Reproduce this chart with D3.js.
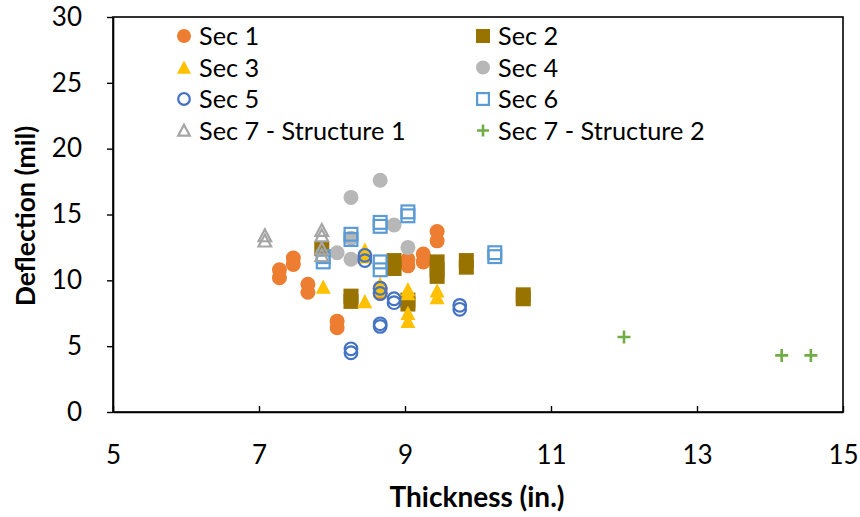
<!DOCTYPE html>
<html>
<head>
<meta charset="utf-8">
<script src="https://cdn.jsdelivr.net/npm/d3@7"></script>
<style>
  body { margin: 0; background: #fff; }
  svg { display: block; font-family: Lato, "Open Sans", sans-serif; }
</style>
</head>
<body>
<div id="chart"></div>
<script>
'use strict';

// thickness (in.), deflection (mil)
var sec1 = [[7.28, 10.8], [7.28, 10.2], [7.47, 11.7], [7.47, 11.2], [7.67, 9.7], [7.67, 9.1],
    [8.07, 6.9], [8.07, 6.4], [8.66, 9.4], [8.66, 9.0], [9.04, 11.6], [9.04, 11.1],
    [9.25, 12.0], [9.25, 11.4], [9.44, 13.7], [9.44, 13.0]];
var sec2 = [[7.86, 12.4], [8.26, 8.8], [8.26, 8.4], [8.85, 11.5], [8.85, 10.9], [9.04, 8.5], [9.04, 8.2],
    [9.44, 11.4], [9.44, 10.8], [9.44, 10.3], [9.84, 11.5], [9.84, 11.0], [10.62, 8.9], [10.62, 8.6]];
var sec3 = [[7.88, 9.5], [8.45, 8.4], [8.45, 12.3], [8.45, 11.8], [8.66, 9.7], [8.66, 9.2],
    [9.04, 9.3], [9.04, 9.0], [9.04, 7.5], [9.04, 6.9], [9.44, 9.2], [9.44, 8.7]];
var sec4 = [[8.66, 17.6], [8.26, 16.3], [8.85, 14.2], [9.04, 12.5], [8.07, 12.1], [8.26, 11.6], [8.26, 13.2]];
var sec5 = [[8.26, 4.8], [8.26, 4.5], [8.66, 6.7], [8.66, 6.5], [8.85, 8.6], [8.85, 8.3],
    [8.66, 9.4], [8.66, 9.0], [8.45, 11.9], [8.45, 11.5], [9.75, 8.1], [9.75, 7.8]];
var sec6 = [[7.88, 11.8], [7.88, 11.4], [8.26, 13.5], [8.26, 13.1], [8.66, 14.4], [8.66, 14.1],
    [9.04, 15.2], [9.04, 14.9], [8.66, 11.4], [8.66, 10.8], [10.23, 12.1], [10.23, 11.8]];
var sec7s1 = [[7.08, 13.4], [7.08, 13.0], [7.86, 13.8], [7.86, 13.4], [7.86, 12.4], [7.86, 11.9]];
var sec7s2 = [[12.0, 5.7], [14.16, 4.3], [14.56, 4.3]];

var seriesNames = ['Sec 1', 'Sec 2', 'Sec 3', 'Sec 4', 'Sec 5', 'Sec 6', 'Sec 7 - Structure 1', 'Sec 7 - Structure 2'];
var xTicks = [5, 7, 9, 11, 13, 15];
var yTicks = [0, 5, 10, 15, 20, 25, 30];

var series = [
    { name: seriesNames[0], data: sec1, shape: 'circle', color: '#ED7D31', filled: true },
    { name: seriesNames[1], data: sec2, shape: 'square', color: '#997300', filled: true },
    { name: seriesNames[2], data: sec3, shape: 'triangle', color: '#FFC000', filled: true },
    { name: seriesNames[3], data: sec4, shape: 'circle', color: '#B7B7B7', filled: true },
    { name: seriesNames[4], data: sec5, shape: 'circle', color: '#4472C4', filled: false },
    { name: seriesNames[5], data: sec6, shape: 'square', color: '#5B9BD5', filled: false },
    { name: seriesNames[6], data: sec7s1, shape: 'triangle', color: '#A5A5A5', filled: false },
    { name: seriesNames[7], data: sec7s2, shape: 'plus', color: '#70AD47', filled: false }
];

var width = 860, height = 517;
var margin = { top: 17, right: 17, bottom: 105, left: 113 };

var svg = d3.select('#chart').append('svg')
    .attr('width', width)
    .attr('height', height);

var x = d3.scaleLinear().domain([5, 15]).range([margin.left, width - margin.right]);
var y = d3.scaleLinear().domain([0, 30]).range([height - margin.bottom, margin.top]);

// markers
function drawMarker(g, s, size) {
    var r = size / 2;
    var fill = s.filled ? s.color : 'none';
    if (s.shape === 'circle') {
        var rr = s.filled ? r : r - 1.2;
        g.append('circle').attr('r', rr)
            .attr('fill', fill)
            .attr('stroke', s.filled ? 'none' : s.color)
            .attr('stroke-width', 2.2);
    } else if (s.shape === 'square') {
        var h = s.filled ? r : r - 1.1;
        g.append('rect').attr('x', -h).attr('y', -h).attr('width', 2 * h).attr('height', 2 * h)
            .attr('fill', fill)
            .attr('stroke', s.filled ? 'none' : s.color)
            .attr('stroke-width', 2.2);
    } else if (s.shape === 'triangle') {
        var t = s.filled ? r : r - 1.2;
        g.append('path')
            .attr('d', 'M0,' + (-t) + 'L' + t + ',' + (t * 0.9) + 'L' + (-t) + ',' + (t * 0.9) + 'Z')
            .attr('fill', fill)
            .attr('stroke', s.filled ? 'none' : s.color)
            .attr('stroke-width', 2.2)
            .attr('stroke-linejoin', 'miter');
    } else if (s.shape === 'plus') {
        g.append('path')
            .attr('d', 'M' + (-r + 1) + ',0H' + (r - 1) + 'M0,' + (-r + 1) + 'V' + (r - 1))
            .attr('stroke', s.color)
            .attr('stroke-width', 2.6)
            .attr('fill', 'none');
    }
}

series.forEach(function(s) {
    svg.append('g').selectAll('g')
        .data(s.data)
        .enter().append('g')
        .attr('transform', function(d) { return 'translate(' + x(d[0]) + ',' + y(d[1]) + ')'; })
        .each(function() { drawMarker(d3.select(this), s, 15); });
});

// frame
svg.append('rect')
    .attr('x', x(5)).attr('y', y(30))
    .attr('width', x(15) - x(5)).attr('height', y(0) - y(30))
    .attr('fill', 'none').attr('stroke', '#000').attr('stroke-width', 1.6);

// x axis, ticks point inward
var xAxis = svg.append('g')
    .attr('transform', 'translate(0,' + y(0) + ')')
    .call(d3.axisBottom(x).tickValues(xTicks).tickSizeInner(-6).tickSizeOuter(0).tickPadding(34));
xAxis.select('.domain').attr('stroke-width', 1.6);
xAxis.selectAll('.tick line').attr('stroke-width', 1.4);
xAxis.selectAll('.tick text').attr('font-size', 26).attr('fill', '#000').attr('font-family', 'Lato');

// y axis, ticks point outward
var yAxis = svg.append('g')
    .attr('transform', 'translate(' + x(5) + ',0)')
    .call(d3.axisLeft(y).tickValues(yTicks).tickSizeInner(6).tickSizeOuter(0).tickPadding(25));
yAxis.select('.domain').attr('stroke-width', 1.6);
yAxis.selectAll('.tick line').attr('stroke-width', 1.4);
yAxis.selectAll('.tick text').attr('font-size', 26).attr('fill', '#000').attr('font-family', 'Lato');

// axis titles
svg.append('text')
    .attr('x', 477).attr('y', 507)
    .attr('text-anchor', 'middle')
    .attr('font-size', 28).attr('font-weight', 'bold')
    .text('Thickness (in.)');

svg.append('text')
    .attr('transform', 'translate(35,216) rotate(-90)')
    .attr('text-anchor', 'middle')
    .attr('font-size', 26.5).attr('font-weight', 'bold')
    .text('Deflection (mil)');

// legend, two columns
var legend = svg.append('g');
series.forEach(function(s, i) {
    var col = i % 2, row = Math.floor(i / 2);
    var g = legend.append('g')
        .attr('transform', 'translate(' + (184 + col * 299) + ',' + (36 + row * 31.5) + ')');
    drawMarker(g, s, 14);
    g.append('text')
        .attr('x', 15).attr('y', 0).attr('dy', '0.36em')
        .attr('font-size', 25.3)
        .text(s.name);
});
</script>
</body>
</html>
